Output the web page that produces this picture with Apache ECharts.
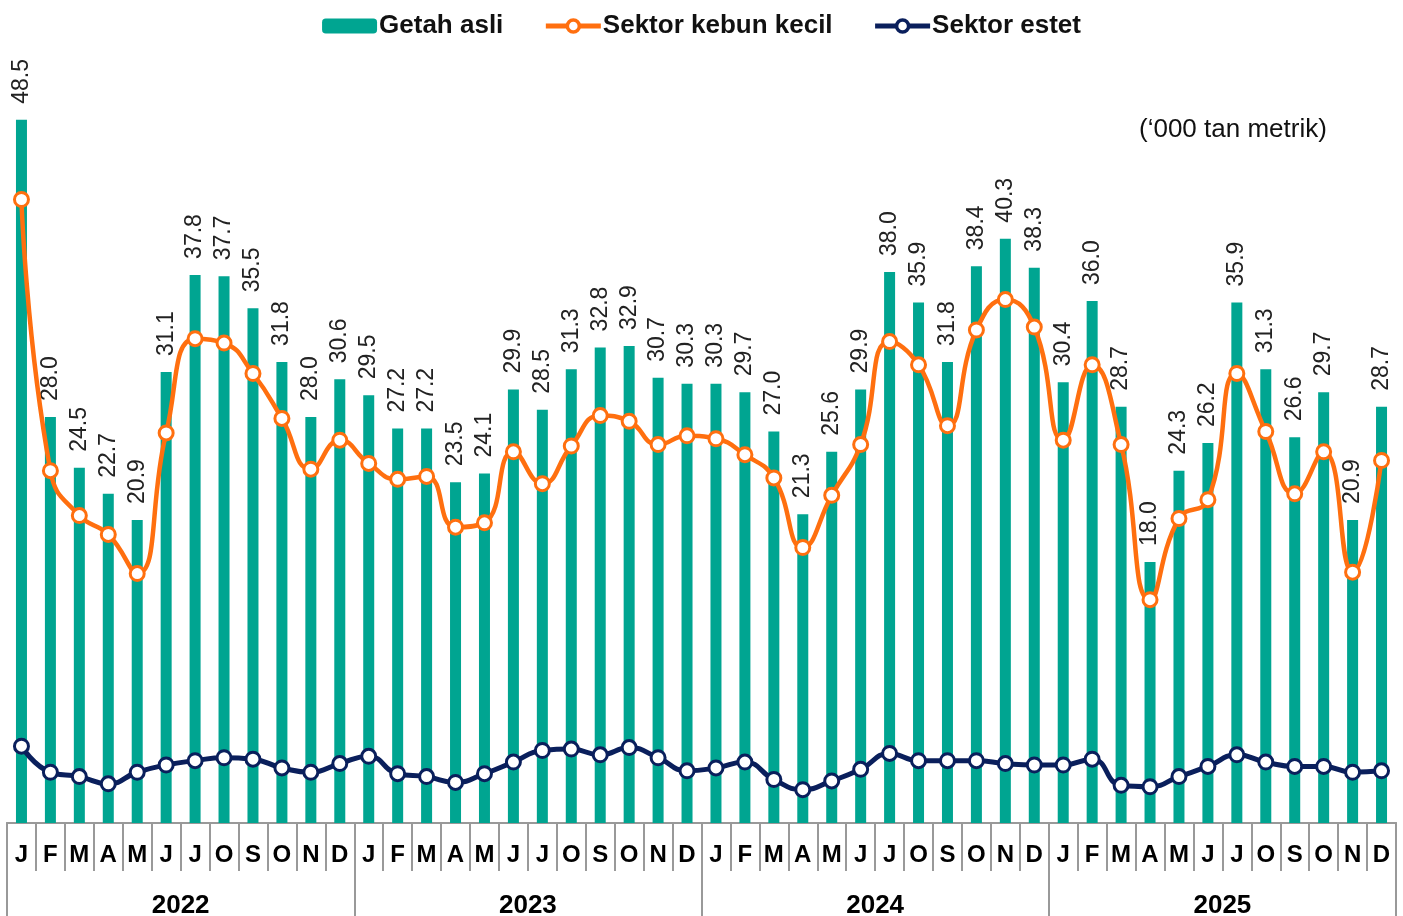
<!DOCTYPE html>
<html>
<head>
<meta charset="utf-8">
<script src="https://cdn.jsdelivr.net/npm/echarts@6/dist/echarts.min.js"></script>
<style>
  html, body { margin: 0; padding: 0; background: #fff; }
  #chartContainer { width: 1403px; height: 916px; }
</style>
</head>
<body>
<div id="chartContainer"></div>
<script>
// Bulan (huruf pertama) dan tahun
const months = ['J', 'F', 'M', 'A', 'M', 'J', 'J', 'O', 'S', 'O', 'N', 'D'];
const years = ['2022', '2023', '2024', '2025'];

// Getah asli ('000 tan metrik)
const getahAsli = [
    48.5, 28.0, 24.5, 22.7, 20.9, 31.1, 37.8, 37.7, 35.5, 31.8, 28.0, 30.6,
    29.5, 27.2, 27.2, 23.5, 24.1, 29.9, 28.5, 31.3, 32.8, 32.9, 30.7, 30.3,
    30.3, 29.7, 27.0, 21.3, 25.6, 29.9, 38.0, 35.9, 31.8, 38.4, 40.3, 38.3,
    30.4, 36.0, 28.7, 18.0, 24.3, 26.2, 35.9, 31.3, 26.6, 29.7, 20.9, 28.7
];

// Sektor kebun kecil
const kebunKecil = [
    43.0, 24.3, 21.2, 19.9, 17.2, 26.9, 33.4, 33.1, 31.0, 27.9, 24.4, 26.4,
    24.8, 23.7, 23.9, 20.4, 20.7, 25.6, 23.4, 26.0, 28.1, 27.7, 26.1, 26.7,
    26.5, 25.4, 23.8, 19.0, 22.6, 26.1, 33.2, 31.6, 27.4, 34.0, 36.1, 34.2,
    26.4, 31.6, 26.1, 15.4, 21.0, 22.3, 31.0, 27.0, 22.7, 25.6, 17.3, 25.0
];

// Sektor estet
const estet = [
    5.3, 3.5, 3.2, 2.7, 3.5, 4.0, 4.3, 4.5, 4.4, 3.8, 3.5, 4.1,
    4.6, 3.4, 3.2, 2.8, 3.4, 4.2, 5.0, 5.1, 4.7, 5.2, 4.5, 3.6,
    3.8, 4.2, 3.0, 2.3, 2.9, 3.7, 4.8, 4.3, 4.3, 4.3, 4.1, 4.0,
    4.0, 4.4, 2.6, 2.5, 3.2, 3.9, 4.7, 4.2, 3.9, 3.9, 3.5, 3.6
];

let monthCats = [];
years.forEach(y => months.forEach(m => monthCats.push(m)));

const font = 'Liberation Sans, Arial, sans-serif';
const orange = '#FF6F0F';
const navy = '#0A1F5C';
const teal = '#00A591';

let chart = echarts.init(document.getElementById('chartContainer'));

let option = {
    animation: false,
    textStyle: { fontFamily: font },
    legend: {
        top: 8,
        left: 'center',
        itemWidth: 55,
        itemHeight: 15,
        itemGap: 40,
        textStyle: { fontSize: 26, fontWeight: 'bold', color: '#111', fontFamily: font, padding: [0, 0, 0, -3] },
        data: [
            { name: 'Getah asli' },
            { name: 'Sektor kebun kecil', lineStyle: { width: 5 }, itemStyle: { borderWidth: 3.5 } },
            { name: 'Sektor estet', lineStyle: { width: 5 }, itemStyle: { borderWidth: 3.5 } }
        ]
    },
    graphic: [{
        type: 'text',
        left: 1139,
        top: 117,
        style: { text: '(\u2018000 tan metrik)', font: '26px ' + font, fill: '#111' }
    }],
    grid: { left: 7, right: 7, top: 98, bottom: 93, containLabel: false, outerBoundsMode: 'none' },
    xAxis: [{
        type: 'category',
        data: monthCats,
        position: 'bottom',
        axisLine: { lineStyle: { color: '#999', width: 2 } },
        axisTick: { show: true, interval: 0, length: 48, lineStyle: { color: '#999', width: 2 } },
        axisLabel: { interval: 0, margin: 20, fontSize: 24, fontWeight: 'bold', color: '#000', fontFamily: font }
    }, {
        type: 'category',
        data: years,
        position: 'bottom',
        axisLine: { lineStyle: { color: '#999', width: 2 } },
        axisTick: { show: true, interval: 0, length: 100, lineStyle: { color: '#999', width: 2 } },
        axisLabel: { interval: 0, margin: 70, fontSize: 26, fontWeight: 'bold', color: '#000', fontFamily: font }
    }],
    yAxis: {
        type: 'value',
        min: 0,
        max: 50,
        show: false,
        splitLine: { show: false }
    },
    series: [{
        name: 'Getah asli',
        type: 'bar',
        xAxisIndex: 0,
        barWidth: 11,
        itemStyle: { color: teal },
        label: {
            show: true,
            position: 'top',
            rotate: 90,
            align: 'left',
            verticalAlign: 'middle',
            distance: 16,
            fontSize: 23,
            color: '#222',
            fontFamily: font,
            formatter: p => p.value.toFixed(1)
        },
        data: getahAsli,
        z: 1
    }, {
        name: 'Sektor kebun kecil',
        type: 'line',
        xAxisIndex: 0,
        smooth: true,
        symbol: 'circle',
        symbolSize: 14,
        lineStyle: { color: orange, width: 4.5 },
        itemStyle: { color: '#fff', borderColor: orange, borderWidth: 3 },
        data: kebunKecil,
        z: 3
    }, {
        name: 'Sektor estet',
        type: 'line',
        xAxisIndex: 0,
        smooth: true,
        symbol: 'circle',
        symbolSize: 14,
        lineStyle: { color: navy, width: 5 },
        itemStyle: { color: '#fff', borderColor: navy, borderWidth: 3 },
        data: estet,
        z: 3
    }]
};

chart.setOption(option);
</script>
</body>
</html>
